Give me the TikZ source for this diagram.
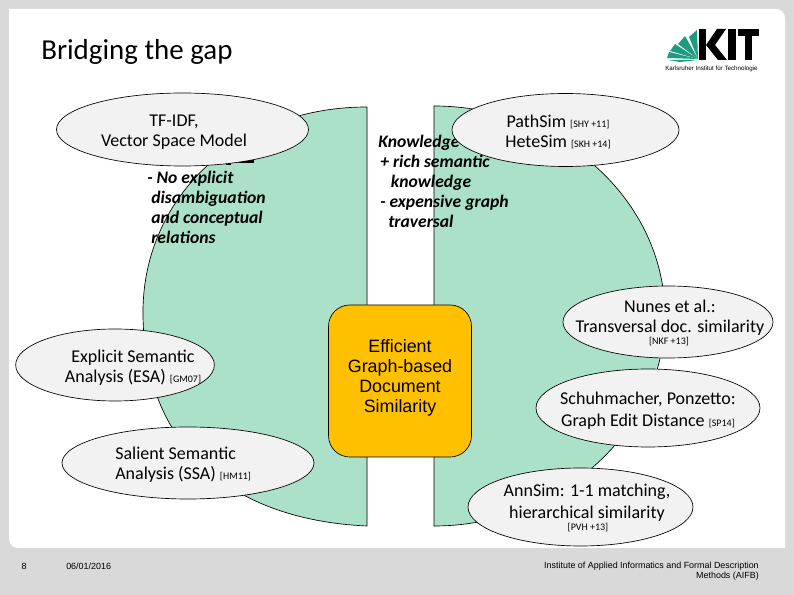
\documentclass[tikz,border=0pt]{standalone}
\usepackage{fontspec}
\setmainfont{Carlito}
\newfontfamily\arialf{Liberation Sans}
\usetikzlibrary{shapes.geometric}
\definecolor{slidegrey}{HTML}{D9D9D9}
\definecolor{halfgreen}{HTML}{ABE1C8}
\definecolor{ellfill}{HTML}{F2F2F2}
\definecolor{coreorange}{HTML}{FFC000}
\definecolor{kitgreen}{HTML}{1F9C80}
\tikzset{
  x=0.75pt,y=-0.75pt,
  ell/.style={ellipse,draw=black,fill=ellfill,line width=0.5pt,inner sep=0pt},
  lab/.style={align=center,inner sep=0pt,font=\fontsize{13.5}{15}\selectfont},
  half/.style={draw=black,fill=halfgreen,line width=0.5pt},
  note/.style={font=\fontsize{13.2}{15}\selectfont\bfseries\itshape,align=left,anchor=north west,inner sep=0pt},
  foot/.style={font=\arialf\fontsize{6.7}{7.5}\selectfont,inner sep=0pt},
  rfl/.style={inner sep=0pt,font=\fontsize{7.5}{8}\selectfont}
}
\newcommand{\rf}[1]{{\fontsize{7.5}{8}\selectfont[#1]}}
\begin{document}
\begin{tikzpicture}
\useasboundingbox (0,0) rectangle (794,595);
\fill[slidegrey] (0,0) rectangle (794,595);
\fill[white] (9,9) -- (776,9) .. controls (781,9) and (785,13) .. (785,18) -- (785,548) -- (18,548) .. controls (13,548) and (9,544) .. (9,539) -- cycle;
\draw[half] (367,107) -- (367,526) .. controls (235,520) and (145,450) .. (143,316) .. controls (141,200) and (235,107) .. (367,107) -- cycle;
\draw[half] (434,106) .. controls (560,106) and (665,200) .. (665,316) .. controls (665,430) and (560,526) .. (434,526) -- cycle;
\fill[black] (226,161) rectangle (231,165);
\fill[black] (238,159) rectangle (254,163);
\node[note] (anote) at (147,171) {- No explicit\\\hspace*{3pt}disambiguation\\\hspace*{3pt}and conceptual\\\hspace*{3pt}relations};
\node[note] (bnote) at (378,135) {Knowledge\\\hspace*{1.5pt}+ rich semantic\\\hspace*{9.5pt}knowledge\\\hspace*{1.5pt}- expensive graph\\\hspace*{7.5pt}traversal};
\node[ell,minimum width=189pt,minimum height=54.75pt] (tfidf) at (182.5,129.5) {};
\node[lab] (tfidfL) at (174,132) {TF-IDF,\\Vector Space Model};
\node[ell,minimum width=170.25pt,minimum height=54.75pt] (path) at (565.5,130) {};
\node[lab] (pathL) at (558,132) {PathSim \rf{SHY +11}\\HeteSim \rf{SKH +14}};
\node[ell,minimum width=149pt,minimum height=54pt] (esa) at (115,365) {};
\node[lab] (esaL) at (133,368) {Explicit Semantic\\Analysis (ESA) \rf{GM07}};
\node[ell,minimum width=189pt,minimum height=54pt] (ssa) at (188,463) {};
\node[lab,align=left,anchor=west] (ssaL) at (115,465) {Salient Semantic\\Analysis (SSA) \rf{HM11}};
\node[ell,minimum width=157.5pt,minimum height=54pt] (nunes) at (668,322) {};
\node[lab] (nunesL) at (670,317.5) {Nunes et al.:\\Transversal doc. similarity};
\node[rfl] (nunesR) at (669,342) {[NKF +13]};
\node[ell,minimum width=168pt,minimum height=58.5pt] (schuh) at (648,408) {};
\node[lab,font=\fontsize{13.5}{16.5}\selectfont] (schuhL) at (648,411) {Schuhmacher, Ponzetto:\\Graph Edit Distance \rf{SP14}};
\node[ell,minimum width=168.75pt,minimum height=58.5pt] (ann) at (580.5,507) {};
\node[lab,font=\fontsize{13.5}{16.5}\selectfont] (annL) at (587,503) {AnnSim: 1-1 matching,\\hierarchical similarity};
\node[rfl] (annR) at (588,528) {[PVH +13]};
\node[draw=black,fill=coreorange,line width=0.5pt,rounded corners=16pt,minimum width=107.25pt,minimum height=114pt,inner sep=0pt] (core) at (400,381) {};
\node[align=center,inner sep=0pt,font=\arialf\fontsize{13.4}{15}\selectfont] (coreL) at (400,378) {Efficient\\Graph-based\\Document\\Similarity};
\node[font=\fontsize{21.7}{26}\selectfont,anchor=west,inner sep=0pt] (title) at (41,52) {Bridging the gap};
% logo
\fill[kitgreen] (698,59) -- (689,37) -- (697,30) -- cycle;
\fill[kitgreen] (698,59) -- (678,44) -- (685,36) -- cycle;
\fill[kitgreen] (698,59) -- (670,51) -- (675,44) -- cycle;
\fill[kitgreen] (698,59) -- (667,58) -- (669,52) -- cycle;
\fill[kitgreen] (698,60) -- (668,60) -- (680,62) -- cycle;
\fill[black] (699,29) rectangle (706,60);
\fill[black] (706,45) -- (717,29) -- (726,29) -- (715,45) -- (727,60) -- (718,60) -- cycle;
\fill[black] (728,29) rectangle (736,60);
\fill[black] (738,29) rectangle (759,36);
\fill[black] (745,29) rectangle (752,60);
\node[font=\arialf\fontsize{4.65}{5}\selectfont,inner sep=0pt,anchor=west] (logotext) at (665,69) {Karlsruher Institut für Technologie};
\node[foot] (pagenum) at (24,566) {8};
\node[foot,anchor=west] (date) at (66,566) {06/01/2016};
\node[foot,align=right,anchor=east] (inst) at (759,571) {Institute of Applied Informatics and Formal Description\\Methods (AIFB)};
\end{tikzpicture}
\end{document}
